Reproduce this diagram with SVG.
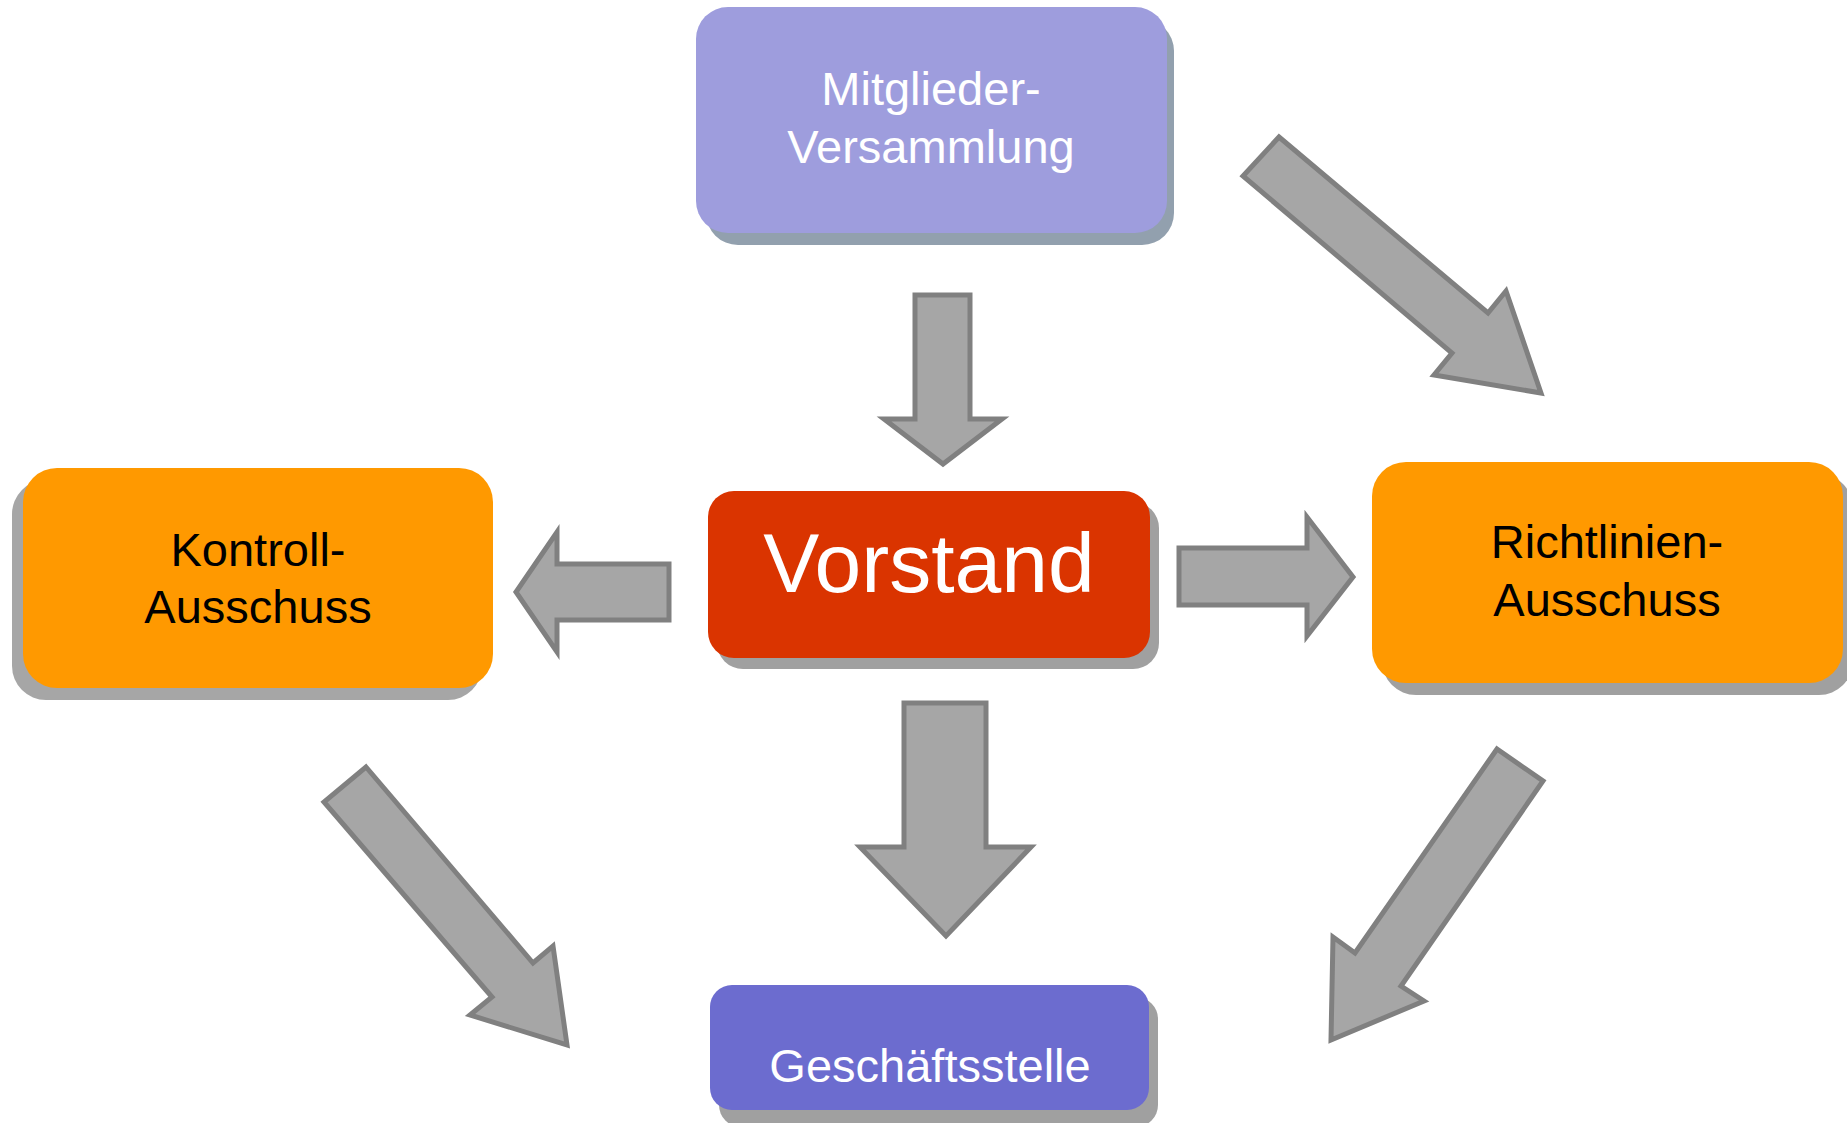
<svg xmlns="http://www.w3.org/2000/svg" width="1847" height="1123" viewBox="0 0 1847 1123">
<style>
.arrow{fill:#a6a6a6;stroke:#808080;stroke-width:5;stroke-linejoin:miter}
.lbl{font-family:"Liberation Sans",Arial,sans-serif;font-size:47px;text-anchor:middle}
.w{fill:#ffffff}
.b{fill:#000000}
.sh{fill:#a6a6a6}
</style>
<rect width="1847" height="1123" fill="#ffffff"/>
<g id="connectors">
<polygon class="arrow" points="915,295 970,295 970,419 1002,419 943,464 884,419 915,419"/>
<polygon class="arrow" points="1279,137 1488,313 1506,291 1541,393 1434,375 1452,353 1243,176"/>
<polygon class="arrow" points="669,564 669,620 557,620 557,652 516,592 557,532 557,564"/>
<polygon class="arrow" points="1179,548 1307,548 1307,517 1353,577 1307,636 1307,605 1179,605"/>
<polygon class="arrow" points="904,703 986,703 986,847 1031,847 946,936 860,847 904,847"/>
<polygon class="arrow" points="366,767 533,963 553,946 567,1045 470,1015 492,997 324,802"/>
<polygon class="arrow" points="1497,749 1543,781 1401,986 1424,1001 1331,1040 1333,937 1355,953"/>
</g>
<g id="node-mitglieder">
<rect x="706" y="19" width="468" height="226" rx="32" fill="#92a0ae"/>
<rect x="696" y="7" width="471" height="226" rx="32" fill="#9e9ddd"/>
<text class="lbl w" x="931" y="105">Mitglieder-</text>
<text class="lbl w" x="931" y="163">Versammlung</text>
</g>
<g id="node-kontroll">
<rect x="12" y="480" width="470" height="220" rx="34" class="sh"/>
<rect x="23" y="468" width="470" height="220" rx="34" fill="#ff9900"/>
<text class="lbl b" x="258" y="566">Kontroll-</text>
<text class="lbl b" x="258" y="623">Ausschuss</text>
</g>
<g id="node-vorstand">
<rect x="717" y="502" width="442" height="167" rx="26" fill="#a0a0a0"/>
<rect x="708" y="491" width="442" height="167" rx="26" fill="#da3400"/>
<text x="929" y="592" font-family="'Liberation Sans',Arial,sans-serif" font-size="84" text-anchor="middle" fill="#ffffff">Vorstand</text>
</g>
<g id="node-richtlinien">
<rect x="1382" y="474" width="471" height="221" rx="34" fill="#a0a0a0"/>
<rect x="1372" y="462" width="471" height="221" rx="34" fill="#ff9900"/>
<text class="lbl b" x="1607" y="558">Richtlinien-</text>
<text class="lbl b" x="1607" y="616">Ausschuss</text>
</g>
<g id="node-geschaeftsstelle">
<rect x="719" y="997" width="439" height="130" rx="22" fill="#a0a0a0"/>
<rect x="710" y="985" width="439" height="125" rx="22" fill="#6c6ccf"/>
<text class="lbl w" x="930" y="1082">Geschäftsstelle</text>
</g>
</svg>
